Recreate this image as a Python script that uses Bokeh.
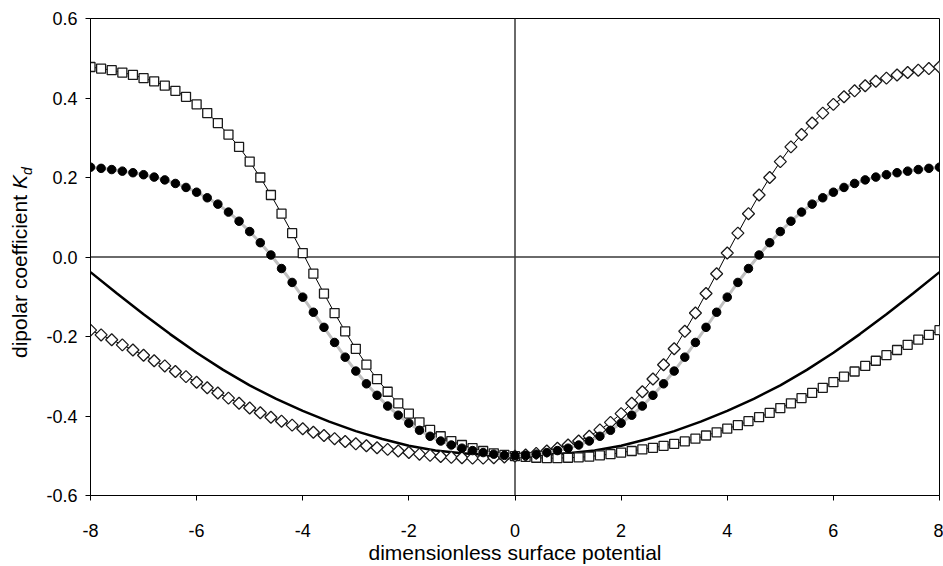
import math
from bokeh.plotting import figure
from bokeh.layouts import row
from bokeh.models import Span, Div, FixedTicker, NumeralTickFormatter, Range1d
from bokeh.embed import file_html
from bokeh.resources import INLINE

# ---- data ----
x_pts = [-8.0, -7.8, -7.6, -7.4, -7.2, -7.0, -6.8, -6.6, -6.4, -6.2,
         -6.0, -5.8, -5.6, -5.4, -5.2, -5.0, -4.8, -4.6, -4.4, -4.2,
         -4.0, -3.8, -3.6, -3.4, -3.2, -3.0, -2.8, -2.6, -2.4, -2.2,
         -2.0, -1.8, -1.6, -1.4, -1.2, -1.0, -0.8, -0.6, -0.4, -0.2,
         0.0, 0.2, 0.4, 0.6, 0.8, 1.0, 1.2, 1.4, 1.6, 1.8,
         2.0, 2.2, 2.4, 2.6, 2.8, 3.0, 3.2, 3.4, 3.6, 3.8,
         4.0, 4.2, 4.4, 4.6, 4.8, 5.0, 5.2, 5.4, 5.6, 5.8,
         6.0, 6.2, 6.4, 6.6, 6.8, 7.0, 7.2, 7.4, 7.6, 7.8,
         8.0]

squares = [0.478, 0.474, 0.470, 0.464, 0.458, 0.450, 0.442, 0.431, 0.418, 0.403,
           0.384, 0.362, 0.337, 0.308, 0.277, 0.240, 0.200, 0.156, 0.109, 0.060,
           0.010, -0.042, -0.092, -0.141, -0.187, -0.231, -0.271, -0.307, -0.339, -0.368,
           -0.394, -0.416, -0.435, -0.451, -0.463, -0.473, -0.481, -0.488, -0.494, -0.498,
           -0.501, -0.503, -0.505, -0.506, -0.506, -0.505, -0.504, -0.502, -0.499, -0.496,
           -0.492, -0.488, -0.484, -0.480, -0.475, -0.470, -0.464, -0.457, -0.449, -0.441,
           -0.432, -0.423, -0.413, -0.403, -0.392, -0.380, -0.368, -0.355, -0.342, -0.329,
           -0.315, -0.301, -0.288, -0.274, -0.261, -0.247, -0.234, -0.221, -0.208, -0.196,
           -0.184]

diamonds = [-0.184, -0.196, -0.208, -0.221, -0.234, -0.247, -0.261, -0.274, -0.288, -0.301,
            -0.315, -0.329, -0.342, -0.355, -0.368, -0.380, -0.392, -0.403, -0.413, -0.423,
            -0.432, -0.441, -0.449, -0.457, -0.464, -0.470, -0.475, -0.480, -0.484, -0.488,
            -0.492, -0.496, -0.499, -0.502, -0.504, -0.505, -0.506, -0.506, -0.505, -0.503,
            -0.501, -0.498, -0.494, -0.488, -0.481, -0.473, -0.463, -0.451, -0.435, -0.416,
            -0.394, -0.368, -0.339, -0.307, -0.271, -0.231, -0.187, -0.141, -0.092, -0.042,
            0.010, 0.060, 0.109, 0.156, 0.200, 0.240, 0.277, 0.308, 0.337, 0.362,
            0.384, 0.403, 0.418, 0.431, 0.442, 0.450, 0.458, 0.464, 0.470, 0.474,
            0.478]

circles = [0.226, 0.223, 0.220, 0.216, 0.212, 0.207, 0.201, 0.194, 0.185, 0.175,
           0.163, 0.149, 0.133, 0.113, 0.090, 0.064, 0.036, 0.005, -0.029, -0.064,
           -0.101, -0.139, -0.177, -0.215, -0.252, -0.287, -0.319, -0.348, -0.375, -0.398,
           -0.418, -0.436, -0.451, -0.463, -0.473, -0.481, -0.487, -0.492, -0.496, -0.499,
           -0.500, -0.499, -0.496, -0.492, -0.487, -0.481, -0.473, -0.463, -0.451, -0.436,
           -0.418, -0.398, -0.375, -0.348, -0.319, -0.287, -0.252, -0.215, -0.177, -0.139,
           -0.101, -0.064, -0.029, 0.005, 0.036, 0.064, 0.090, 0.113, 0.133, 0.149,
           0.163, 0.175, 0.185, 0.194, 0.201, 0.207, 0.212, 0.216, 0.220, 0.223,
           0.226]

x_curve = [-8.0, -7.5, -7.0, -6.5, -6.0, -5.5, -5.0, -4.5, -4.0, -3.5, -3.0, -2.5,
           -2.0, -1.5, -1.0, -0.5, 0.0, 0.5, 1.0, 1.5, 2.0, 2.5, 3.0, 3.5, 4.0,
           4.5, 5.0, 5.5, 6.0, 6.5, 7.0, 7.5, 8.0]
curve = [-0.038, -0.092, -0.144, -0.194, -0.241, -0.284, -0.323, -0.357, -0.387, -0.414,
         -0.438, -0.458, -0.475, -0.487, -0.494, -0.498, -0.500, -0.498, -0.494, -0.487,
         -0.475, -0.458, -0.438, -0.414, -0.387, -0.357, -0.323, -0.284, -0.241, -0.194,
         -0.144, -0.092, -0.038]

x_ticks = [-8, -6, -4, -2, 0, 2, 4, 6, 8]
y_ticks = [-0.6, -0.4, -0.2, 0.0, 0.2, 0.4, 0.6]
x_title = "dimensionless surface potential"
y_title = "dipolar coefficient "
y_title_sym = "K"
y_title_sub = "d"

FONT = "Liberation Sans"

p = figure(width=903, height=566, output_backend="svg", toolbar_location=None,
           x_range=Range1d(-8, 8), y_range=Range1d(-0.6, 0.6),
           min_border_left=50, min_border_right=4, min_border_top=18, min_border_bottom=71)
p.xgrid.visible = False
p.ygrid.visible = False
p.outline_line_color = "black"
p.outline_line_width = 1
p.outline_line_alpha = 1
p.background_fill_color = "white"
p.border_fill_color = "white"

p.xaxis.ticker = FixedTicker(ticks=x_ticks)
p.yaxis.ticker = FixedTicker(ticks=y_ticks)
p.xaxis.formatter = NumeralTickFormatter(format="0")
p.yaxis.formatter = NumeralTickFormatter(format="0.0")
for ax in (p.xaxis[0], p.yaxis[0]):
    ax.minor_tick_line_color = None
    ax.major_tick_out = 5
    ax.major_tick_in = 0
    ax.axis_line_color = "black"
    ax.major_tick_line_color = "black"
    ax.major_label_text_font = FONT
    ax.major_label_text_font_size = "18px"
    ax.major_label_text_color = "black"
p.yaxis.major_label_standoff = 8
p.xaxis.major_label_standoff = 23

p.xaxis.axis_label = x_title
p.xaxis.axis_label_text_font = FONT
p.xaxis.axis_label_text_font_size = "21px"
p.xaxis.axis_label_text_font_style = "normal"
p.xaxis.axis_label_text_color = "black"
p.xaxis.axis_label_standoff = 1

p.add_layout(Span(location=0, dimension="height", line_color="#383838", line_width=1.5, level="underlay"))
p.add_layout(Span(location=0, dimension="width", line_color="#383838", line_width=1.5, level="underlay"))

p.line(x_curve, curve, line_color="black", line_width=2.5)

p.line(x_pts, squares, line_color="black", line_width=1)
p.scatter(x_pts, squares, marker="square", size=9, fill_color="white",
          line_color="#1a1a1a", line_width=1.3)

p.line(x_pts, diamonds, line_color="black", line_width=1)
p.scatter(x_pts, diamonds, marker="square", angle=math.pi / 4, size=8.5, fill_color="white",
          line_color="#1a1a1a", line_width=1.3)

p.line(x_pts, circles, line_color="#c0c0c0", line_width=3)
p.scatter(x_pts, circles, marker="circle", size=8.5, fill_color="black", line_color="black")

ylabel_html = (
    '<div style="position:relative;width:40px;height:566px;">'
    '<span style="position:absolute;left:8px;top:358px;transform-origin:0 0;'
    'transform:rotate(-90deg);white-space:nowrap;font-family:\'Liberation Sans\';'
    'font-size:21px;line-height:24px;color:black;">'
    + y_title + '<i>' + y_title_sym + '</i><sub style="font-size:14px;font-style:italic;">'
    + y_title_sub + '</sub></span></div>'
)
ylabel = Div(text=ylabel_html, width=40, height=566, margin=(0, 0, 0, 0))

layout = row(ylabel, p, spacing=0)

open("out.html", "w").write(file_html(layout, INLINE))
